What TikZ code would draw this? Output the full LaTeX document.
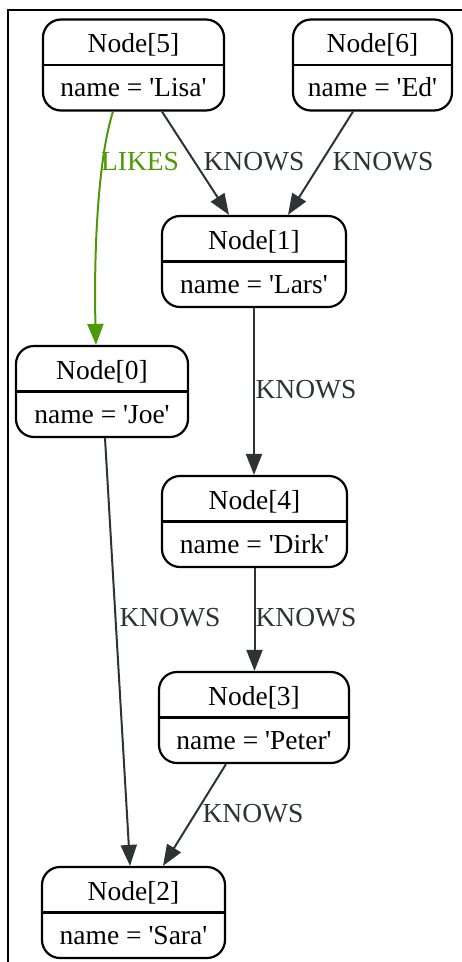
\documentclass[tikz,border=0pt]{standalone}
\usepackage{fontspec}
\setmainfont{Liberation Serif}
\usetikzlibrary{arrows.meta}
\definecolor{edgegray}{HTML}{2E3436}
\definecolor{likegreen}{HTML}{4E9A06}
\tikzset{
  recbox/.style={draw=black, line width=2.2pt, rounded corners=18pt, minimum height=91pt, inner sep=0pt},
  recline/.style={draw=black, line width=2.2pt},
  rectext/.style={anchor=base, inner sep=0pt, font=\fontsize{27.5}{33}\selectfont},
  edge/.style={draw=edgegray, line width=2pt, -{Triangle[length=21pt,width=16pt]}},
  likeedge/.style={draw=likegreen, line width=2pt, -{Triangle[length=21pt,width=16pt]}},
  elabel/.style={text=edgegray, inner sep=0pt, font=\fontsize{27.5}{33}\selectfont},
  llabel/.style={text=likegreen, inner sep=0pt, font=\fontsize{27.5}{33}\selectfont},
  frameline/.style={draw=black, line width=1.8pt}
}
\newcommand{\qq}{\textquotesingle}
\newcommand{\recnode}[6]{%
  \node[recbox, minimum width=#4pt] (#1) at (#2,#3+45.5) {};
  \draw[recline] (#1.west) -- (#1.east);
  \node[rectext] (#1t) at (#2,#3+33) {#5};
  \node[rectext] (#1v) at (#2,#3+77) {#6};
}
\begin{document}
\begin{tikzpicture}[x=1pt,y=-1pt]
\useasboundingbox (0,0) rectangle (462,962);
\fill[white] (0,0) rectangle (462,962);
\draw[frameline] (8,962) -- (8,10) -- (462,10);

\recnode{n5}{133.5}{19.5}{181}{Node[5]}{name = \qq Lisa\qq}
\recnode{n6}{372.5}{19.5}{159}{Node[6]}{name = \qq Ed\qq}
\recnode{n1}{254}{216}{184}{Node[1]}{name = \qq Lars\qq}
\recnode{n0}{102}{346}{172}{Node[0]}{name = \qq Joe\qq}
\recnode{n4}{254.5}{476}{185}{Node[4]}{name = \qq Dirk\qq}
\recnode{n3}{254}{672}{190}{Node[3]}{name = \qq Peter\qq}
\recnode{n2}{133.5}{867}{183}{Node[2]}{name = \qq Sara\qq}

\draw[edge] ([xshift=28.5pt]n5.south) -- ([xshift=-25pt]n1.north);
\draw[edge] ([xshift=-19.5pt]n6.south) -- ([xshift=34pt]n1.north);
\draw[likeedge] ([xshift=-20.5pt]n5.south) .. controls (96,165) and (94,270) .. ([xshift=-6pt]n0.north);
\draw[edge] (n1.south) -- (n1.south |- n4.north);
\draw[edge] ([xshift=3pt]n0.south) -- ([xshift=-3.5pt]n2.north);
\draw[edge] (n4.south) -- (n4.south |- n3.north);
\draw[edge] ([xshift=-28pt]n3.south) -- ([xshift=29.5pt]n2.north);

\node[llabel] (lb1) at (140,162) {LIKES};
\node[elabel] (lb2) at (254,162) {KNOWS};
\node[elabel] (lb3) at (383,162) {KNOWS};
\node[elabel] (lb4) at (306,390) {KNOWS};
\node[elabel] (lb5) at (170,618) {KNOWS};
\node[elabel] (lb6) at (306,618) {KNOWS};
\node[elabel] (lb7) at (253,814) {KNOWS};
\end{tikzpicture}
\end{document}
